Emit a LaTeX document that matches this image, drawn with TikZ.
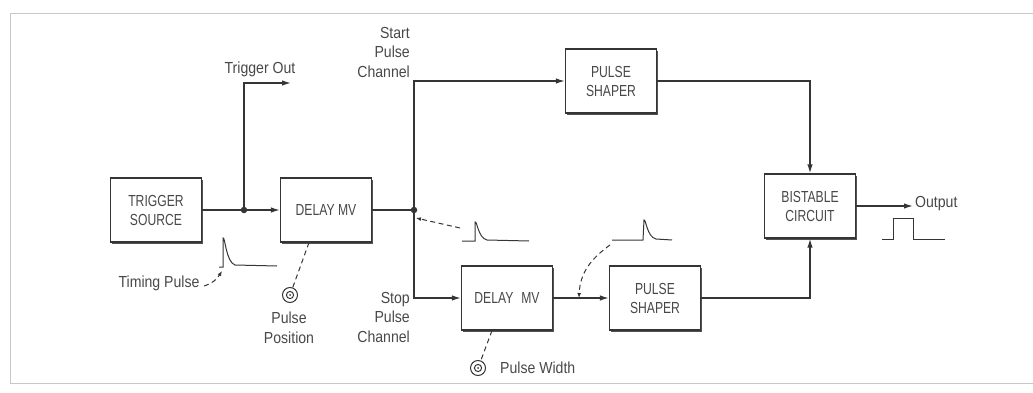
\documentclass[tikz,border=0pt]{standalone}
\usepackage{fontspec}
\setmainfont{Liberation Sans}[FakeStretch=0.88]
\newfontfamily\capsf{Liberation Sans}[FakeStretch=0.76]
\usetikzlibrary{arrows.meta,shadows}
\definecolor{linec}{HTML}{353535}
\definecolor{txtc}{HTML}{484848}
\definecolor{framec}{HTML}{C8C8C8}
\begin{document}
\begin{tikzpicture}[x=1pt,y=-1pt,
  blk/.style={draw=linec, line width=1.2pt, fill=white, minimum width=91pt, minimum height=64pt,
    align=center, font=\capsf\fontsize{16}{19}\selectfont, text=txtc, inner sep=2pt,
    drop shadow={shadow xshift=1.6pt, shadow yshift=-1.6pt, fill=linec, opacity=0.85}},
  wire/.style={draw=linec, line width=1.4pt},
  arr/.style={wire, -{Latex[length=9pt,width=5.5pt]}},
  lbl/.style={font=\fontsize{16}{19.5}\selectfont, text=txtc, inner sep=0pt},
  lead/.style={draw=linec, line width=1pt, dash pattern=on 5pt off 3.5pt},
  leadarr/.style={lead, -{Latex[length=5pt,width=4pt]}},
  wave/.style={draw=linec, line width=1pt},
  dotn/.style={fill=linec, circle, inner sep=0pt, minimum size=6.5pt}
]
\useasboundingbox (0,0) rectangle (1033,393);
% frame
\draw[framec, line width=0.8pt] (1033,13) -- (10,13) -- (10,383) -- (1033,383);

% blocks
\node[blk] (ts) at (156,210) {TRIGGER\\SOURCE};
\node[blk] (d1) at (326,210) {DELAY MV};
\node[blk] (ps1) at (611,81) {PULSE\\SHAPER};
\node[blk] (d2) at (507,298) {DELAY\enspace MV};
\node[blk] (ps2) at (655,298) {PULSE\\SHAPER};
\node[blk] (bc) at (810,206) {BISTABLE\\CIRCUIT};

% junctions and free ends
\node[dotn] (j1) at (244,210) {};
\node[dotn] (j2) at (414,210) {};
\coordinate (to) at (291,83);
\coordinate (out) at (913,206);
\coordinate (tap) at (579,298);

% connectors
\draw[wire] (ts) -- (j1);
\draw[arr] (j1) -- (d1);
\draw[arr] (j1.center) |- (to);
\draw[wire] (d1) -- (j2);
\draw[arr] (j2.center) |- (ps1);
\draw[arr] (j2.center) |- (d2);
\draw[arr] (d2) -- (ps2);
\draw[arr] (ps1) -| (bc);
\draw[arr] (ps2) -| (bc);
\draw[arr] (bc) -- (out);

% labels
\node[lbl] (lto) at (260,69) {Trigger Out};
\node[lbl, align=right, anchor=east] (lstart) at (410,52) {Start\\Pulse\\Channel};
\node[lbl, align=right, anchor=east] (lstop) at (410,317) {Stop\\Pulse\\Channel};
\node[lbl, anchor=west] (lout) at (915,204) {Output};
\node[lbl] (ltp) at (159,283) {Timing Pulse};
\node[lbl, align=center] (lpp) at (289,328) {Pulse\\Position};

% knobs
\node[draw=linec, line width=1pt, circle, minimum size=15pt, inner sep=0pt] (k1) at (290,295) {};
\fill[linec] (k1.center) circle (1pt);
\draw[linec, line width=1pt] (k1.center) circle (3.6pt);
\node[draw=linec, line width=1pt, circle, minimum size=15pt, inner sep=0pt] (k2) at (478,368) {};
\fill[linec] (k2.center) circle (1pt);
\draw[linec, line width=1pt] (k2.center) circle (3.6pt);
\node[lbl, anchor=west] (lpw) at (500,368) {Pulse Width};
\draw[lead] ([xshift=-17pt]d1.south) -- (k1);
\draw[lead] ([xshift=-15pt]d2.south) -- (k2);

% waveforms
\draw[wave] (219,267) -- (223,267) -- (223,238) .. controls (225,236) and (226,262) .. (235,265) -- (277,266);
\draw[wave] (462,241) -- (475,241) -- (475,222) .. controls (477,220) and (478,238) .. (487,240) -- (529,241);
\draw[wave] (612,240) -- (643,240) -- (644,220) .. controls (646,219) and (647,237) .. (656,239) -- (672,240);
\draw[wave] (882,239) -- (893,239) -- (893,218) -- (913,218) -- (913,239) -- (945,239);

% leaders
\draw[leadarr] (204,286) .. controls (213,283) and (217,279) .. (222,271);
\draw[leadarr] (460,228) -- (416,218);
\draw[leadarr] (610,245) .. controls (592,258) and (580,272) .. (tap);
\end{tikzpicture}
\end{document}
